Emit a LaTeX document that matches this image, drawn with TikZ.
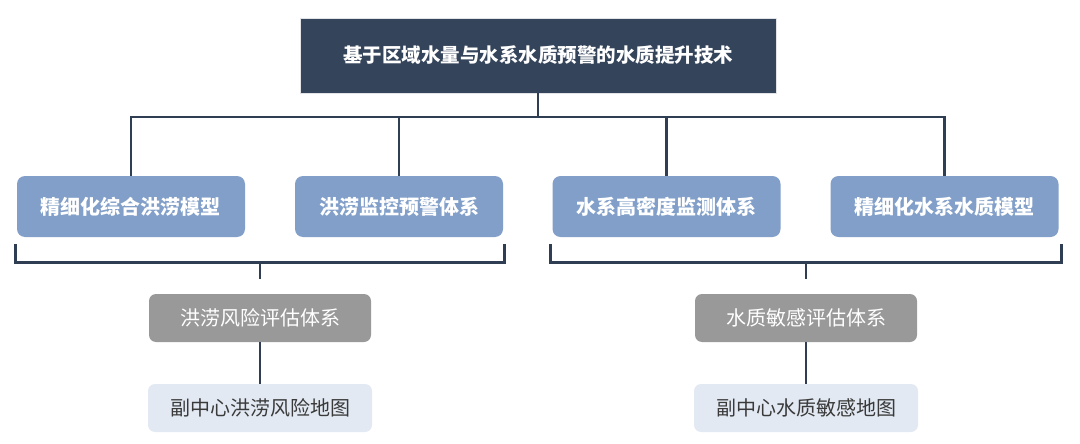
\documentclass[tikz,border=0pt]{standalone}
\usepackage{fontspec}
\setmainfont{Noto Sans CJK SC}
\usepackage{tikz}
\usetikzlibrary{calc}
\definecolor{Navy}{HTML}{34445A}
\definecolor{Steel}{HTML}{819FC8}
\definecolor{Stone}{HTML}{999999}
\definecolor{Mist}{HTML}{E2E9F2}
\definecolor{Wire}{HTML}{2F3E52}
\definecolor{Ink}{HTML}{3A3A3A}

\begin{document}
\begin{tikzpicture}[x=1pt,y=-1pt,
  titlebox/.style={rectangle,draw=white!85!Navy,fill=Navy,minimum width=476pt,minimum height=75pt,inner sep=0pt,font=\fontsize{19.5}{22}\selectfont\bfseries,text=white},
  modelbox/.style={rectangle,rounded corners=8pt,fill=Steel,minimum width=228pt,minimum height=61pt,inner sep=0pt,font=\fontsize{20}{22}\selectfont\bfseries,text=white},
  evalbox/.style={rectangle,rounded corners=7pt,fill=Stone,minimum width=222pt,minimum height=48pt,inner sep=0pt,font=\fontsize{20}{22}\selectfont,text=white},
  mapbox/.style={rectangle,rounded corners=7pt,fill=Mist,minimum width=224pt,minimum height=48pt,inner sep=0pt,font=\fontsize{20}{22}\selectfont,text=Ink},
  link/.style={line width=2.8pt,draw=Wire}]
  \useasboundingbox (0,0) rectangle (1080,444);

  \node[titlebox] (title) at (538,55.5) {基于区域水量与水系水质预警的水质提升技术};

  \node[modelbox] (m1) at (131,206.5) {精细化综合洪涝模型};
  \node[modelbox,minimum width=208pt] (m2) at (399,206.5) {洪涝监控预警体系};
  \node[modelbox] (m3) at (666.5,206.5) {水系高密度监测体系};
  \node[modelbox] (m4) at (944.5,206.5) {精细化水系水质模型};

  \node[evalbox] (risk1) at (260,318) {洪涝风险评估体系};
  \node[evalbox] (risk2) at (806,318) {水质敏感评估体系};

  \node[mapbox] (map1) at (260,408) {副中心洪涝风险地图};
  \node[mapbox] (map2) at (806,408) {副中心水质敏感地图};

  % title to the four models
  \coordinate (bus) at (538,117);
  \draw[link] (title.south) -- (bus);
  \foreach \n in {m1,m2,m3,m4}
    \draw[link] (bus) -| (\n.north);

  % brackets under the model pairs
  \draw[link] ([shift={(-1pt,-7pt)}]m1.south west) -- ++(0,18) -| ([shift={(1pt,-7pt)}]m2.south east);
  \draw[link] ([shift={(-2pt,-7pt)}]m3.south west) -- ++(0,18) -| ([shift={(3pt,-7pt)}]m4.south east);
  \coordinate (brL) at (risk1.north |- 0,262);
  \coordinate (brR) at (risk2.north |- 0,262);
  \draw[link] (brL) -- ++(0,17);
  \draw[link] (brR) -- ++(0,17);

  \draw[link] (risk1) -- (map1);
  \draw[link] (risk2) -- (map2);
\end{tikzpicture}
\end{document}
